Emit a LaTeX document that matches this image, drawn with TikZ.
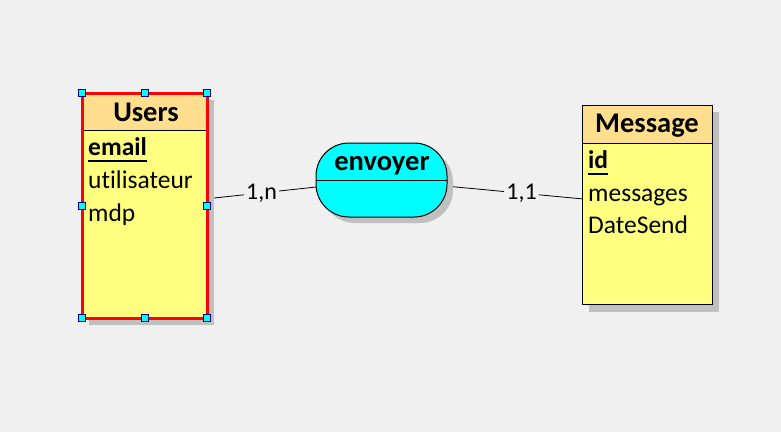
\documentclass[tikz,border=0pt]{standalone}
\usepackage{fontspec}
\setmainfont{Carlito}[Ligatures=NoCommon]
\definecolor{bg}{RGB}{240,240,240}
\definecolor{shadowgray}{RGB}{192,192,192}
\definecolor{bodyyellow}{RGB}{255,255,128}
\definecolor{headorange}{RGB}{255,223,142}
\definecolor{navyc}{RGB}{0,0,128}
\definecolor{aqua}{RGB}{0,255,255}
\definecolor{redc}{RGB}{255,0,0}
\begin{document}
\begin{tikzpicture}[x=1pt,y=-1pt,
  bodytxt/.style={font=\fontsize{25.5}{30}\selectfont, inner sep=0pt, anchor=base west},
  headtxt/.style={font=\bfseries\fontsize{28.5}{34}\selectfont, inner sep=0pt, anchor=base},
  cardlbl/.style={font=\fontsize{24}{28}\selectfont, fill=bg, inner sep=2pt},
  frame/.style={rectangle, inner sep=0pt, outer sep=0pt, anchor=north west},
  conn/.style={draw=black, line width=0.8pt},
  handle/.style={fill=aqua, draw=navyc, line width=1pt}]
\useasboundingbox (0,0) rectangle (781,432);
\fill[bg] (0,0) rectangle (781,432);
% anchor frames
\node[frame, minimum width=125pt, minimum height=225pt] (users) at (82,93) {};
\node[frame, minimum width=131pt, minimum height=74pt] (env) at (316,143) {};
\node[frame, minimum width=130pt, minimum height=199pt] (msg) at (582.5,105.5) {};
% connectors
\draw[conn] (users) -- node[cardlbl, pos=0.5] (card1) {1,n} (env);
\draw[conn] (env) -- node[cardlbl, pos=0.55] (card2) {1,1} (msg);
% shadows
\fill[shadowgray] (89,100) rectangle (214,325);
\fill[shadowgray, rounded corners=33pt] (322,149) rectangle (453,223);
\fill[shadowgray] (589,112) rectangle (719,312);
% Users entity
\fill[bodyyellow] (82,93) rectangle (207,318);
\fill[headorange] (82,93) rectangle (207,130);
\draw[line width=1pt] (82,130) -- (207,130);
\draw[redc, line width=3pt] (82,93) rectangle (207,318);
% envoyer relation
\draw[fill=aqua, line width=1pt, rounded corners=33pt] (316,143) rectangle (447,217);
\draw[line width=1pt] (316,180) -- (447,180);
% Message entity
\fill[bodyyellow] (582.5,105.5) rectangle (712.5,304.5);
\fill[headorange] (582.5,105.5) rectangle (712.5,143);
\draw[line width=1pt] (582.5,143) -- (712.5,143);
\draw[line width=1pt] (582.5,105.5) rectangle (712.5,304.5);
% texts
\node[headtxt] (usersT) at (146,121) {Users};
\node[bodytxt] (email) at (88,155) {\bfseries email};
\draw[line width=1.5pt] ([yshift=-6pt]email.base west) -- ([yshift=-6pt]email.base east);
\node[bodytxt] (util) at (88,188) {utilisateur};
\node[bodytxt] (mdp) at (88,221) {mdp};
\node[headtxt] (envT) at (382,170) {envoyer};
\node[headtxt] (msgT) at (647,132) {Message};
\node[bodytxt] (id) at (588,168) {\bfseries id};
\draw[line width=1.5pt] ([yshift=-6pt]id.base west) -- ([yshift=-6pt]id.base east);
\node[bodytxt] (messages) at (588,201) {messages};
\node[bodytxt] (date) at (588,233) {DateSend};
% selection handles
\foreach \hx/\hy in {82/93, 144.5/93, 207/93, 82/205.5, 207/205.5, 82/318, 144.5/318, 207/318}
  \draw[handle] (\hx-3.5,\hy-3.5) rectangle (\hx+3.5,\hy+3.5);
\end{tikzpicture}
\end{document}
